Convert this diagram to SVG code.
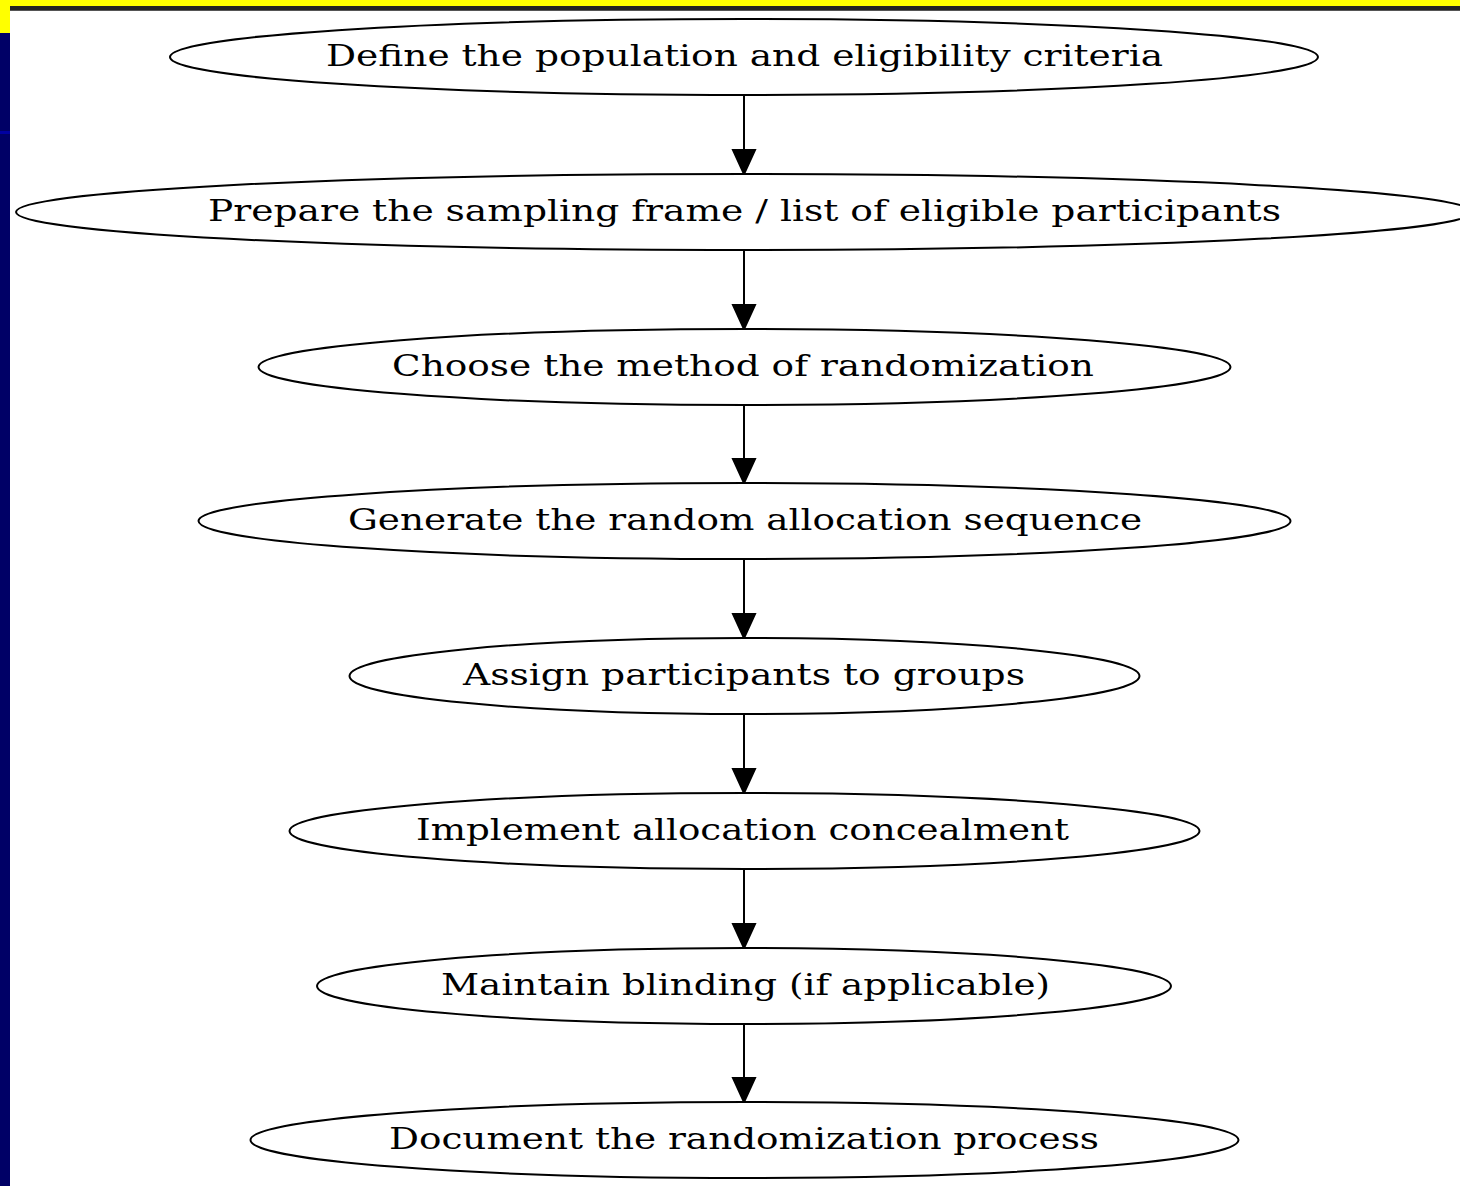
<svg xmlns="http://www.w3.org/2000/svg" width="1460" height="1186" viewBox="0 0 1460 1186">
<style>
.n ellipse{fill:#fff;stroke:#000;stroke-width:2}
.n text{font-family:"DejaVu Serif",serif;font-size:30px;fill:#000;text-anchor:middle}
.e line{stroke:#000;stroke-width:2}
.e polygon{fill:#000;stroke:#000;stroke-width:2}
</style>
<rect x="0" y="0" width="1460" height="1186" fill="#fff"/>
<rect x="0" y="0" width="1460" height="7" fill="#ffff00"/>
<rect x="0" y="0" width="10" height="33" fill="#ffff00"/>
<rect x="0" y="33" width="10" height="1153" fill="#000066"/>
<rect x="0" y="131" width="10" height="3" fill="#0000a0"/>
<rect x="10" y="6" width="1450" height="4" fill="#222"/>
<rect x="10" y="10" width="1450" height="1" fill="#555"/>
<g class="e" id="connectors">
<line x1="744" y1="96" x2="744" y2="150"/><polygon points="733,150 755,150 744,174"/>
<line x1="744" y1="250" x2="744" y2="305"/><polygon points="733,305 755,305 744,329"/>
<line x1="744" y1="405" x2="744" y2="459"/><polygon points="733,459 755,459 744,483"/>
<line x1="744" y1="559" x2="744" y2="614"/><polygon points="733,614 755,614 744,638"/>
<line x1="744" y1="714" x2="744" y2="769"/><polygon points="733,769 755,769 744,793"/>
<line x1="744" y1="869" x2="744" y2="924"/><polygon points="733,924 755,924 744,948"/>
<line x1="744" y1="1024" x2="744" y2="1078"/><polygon points="733,1078 755,1078 744,1102"/>
</g>
<g class="n" id="n1"><ellipse cx="744" cy="57" rx="574" ry="38"/><text x="744.5" y="66" textLength="837" lengthAdjust="spacingAndGlyphs">Define the population and eligibility criteria</text></g>
<g class="n" id="n2"><ellipse cx="744" cy="212" rx="728" ry="38"/><text x="744.5" y="221" textLength="1073" lengthAdjust="spacingAndGlyphs">Prepare the sampling frame / list of eligible participants</text></g>
<g class="n" id="n3"><ellipse cx="744.5" cy="367" rx="486" ry="38"/><text x="743" y="376" textLength="702" lengthAdjust="spacingAndGlyphs">Choose the method of randomization</text></g>
<g class="n" id="n4"><ellipse cx="744.5" cy="521" rx="546" ry="38"/><text x="745" y="530" textLength="794" lengthAdjust="spacingAndGlyphs">Generate the random allocation sequence</text></g>
<g class="n" id="n5"><ellipse cx="744.5" cy="676" rx="395" ry="38"/><text x="744" y="685" textLength="562" lengthAdjust="spacingAndGlyphs">Assign participants to groups</text></g>
<g class="n" id="n6"><ellipse cx="744.5" cy="831" rx="455" ry="38"/><text x="742.5" y="840" textLength="653" lengthAdjust="spacingAndGlyphs">Implement allocation concealment</text></g>
<g class="n" id="n7"><ellipse cx="744" cy="986" rx="427" ry="38"/><text x="745.5" y="995" textLength="609" lengthAdjust="spacingAndGlyphs">Maintain blinding (if applicable)</text></g>
<g class="n" id="n8"><ellipse cx="744.5" cy="1140" rx="494" ry="38"/><text x="744" y="1149" textLength="710" lengthAdjust="spacingAndGlyphs">Document the randomization process</text></g>
</svg>
